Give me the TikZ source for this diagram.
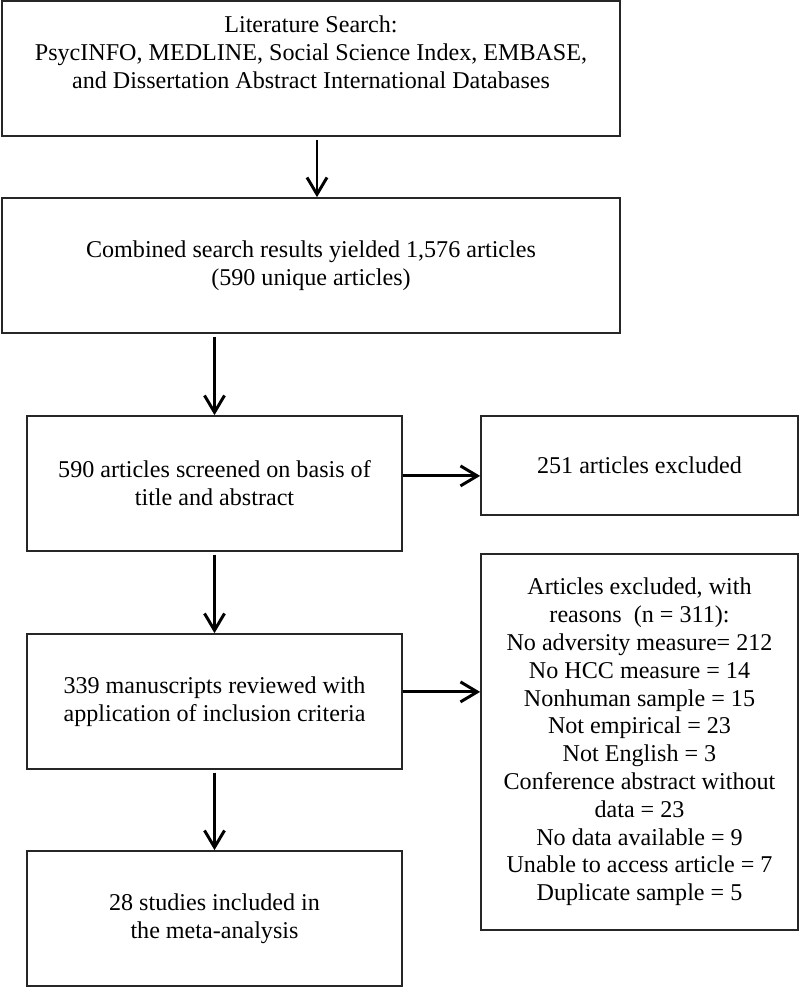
\documentclass[tikz,border=0pt]{standalone}
\usepackage{fontspec}
\setmainfont{Liberation Serif}
\usetikzlibrary{arrows.meta}

\begin{document}
\begin{tikzpicture}[x=0.025cm, y=-0.025cm,
  box/.style={draw=black!85, line width=1.2pt, align=center, inner sep=0pt,
    font=\fontsize{17.14}{19.77}\selectfont},
  arr/.style={line width=2.1pt, -{Straight Barb[length=0.42cm, width=0.5cm]}}]
% Set the pixel size (the picture is 800 x 988 pixels)
\def\px{0.025cm}
\useasboundingbox (0,0) rectangle (800,988);

% Draw the boxes of the main column
\node[box, minimum width=618*\px, minimum height=135*\px] (lit) at (311, 68.5) {};
\node[box, draw=none] (littext) at (311, 52) {Literature Search:\\PsycINFO, MEDLINE, Social Science Index, EMBASE,\\and Dissertation Abstract International Databases};
\node[box, minimum width=618*\px, minimum height=135*\px] (comb) at (311, 265.5) {Combined search results yielded 1,576 articles\\(590 unique articles)};
\node[box, minimum width=375*\px, minimum height=135*\px] (scr) at (214.5, 483.5) {590 articles screened on basis of\\title and abstract};
\node[box, minimum width=375*\px, minimum height=135*\px] (man) at (214.5, 701.5) {339 manuscripts reviewed with\\application of inclusion criteria};
\node[box, minimum width=375*\px, minimum height=135*\px] (inc) at (214.5, 918.5) {28 studies included in\\the meta-analysis};

% Draw the boxes of the excluded articles
\node[box, minimum width=317*\px, minimum height=99*\px] (exa) at (639.5, 465.5) {251 articles excluded};
\node[box, minimum width=317*\px, minimum height=376*\px] (exb) at (639.5, 742) {Articles excluded, with\\reasons\ \ (n = 311):\\No adversity measure= 212\\No HCC measure = 14\\Nonhuman sample = 15\\Not empirical = 23\\Not English = 3\\Conference abstract without\\data = 23\\No data available = 9\\Unable to access article = 7\\Duplicate sample = 5};

% Draw the arrows
\draw[arr, shorten <=2pt] ([xshift=0.15cm]lit.south) -- ([xshift=0.15cm]comb.north);
\draw[arr, shorten <=2pt] (scr.north |- comb.south) -- (scr.north);
\draw[arr, shorten <=2pt] (scr.south) -- (man.north);
\draw[arr, shorten <=2pt] (man.south) -- (inc.north);
\coordinate (outa) at ([yshift=0.19cm]scr.east);
\coordinate (outb) at ([yshift=0.24cm]man.east);
\draw[arr] (outa) -- (outa -| exa.west);
\draw[arr] (outb) -- (outb -| exb.west);
\end{tikzpicture}
\end{document}
